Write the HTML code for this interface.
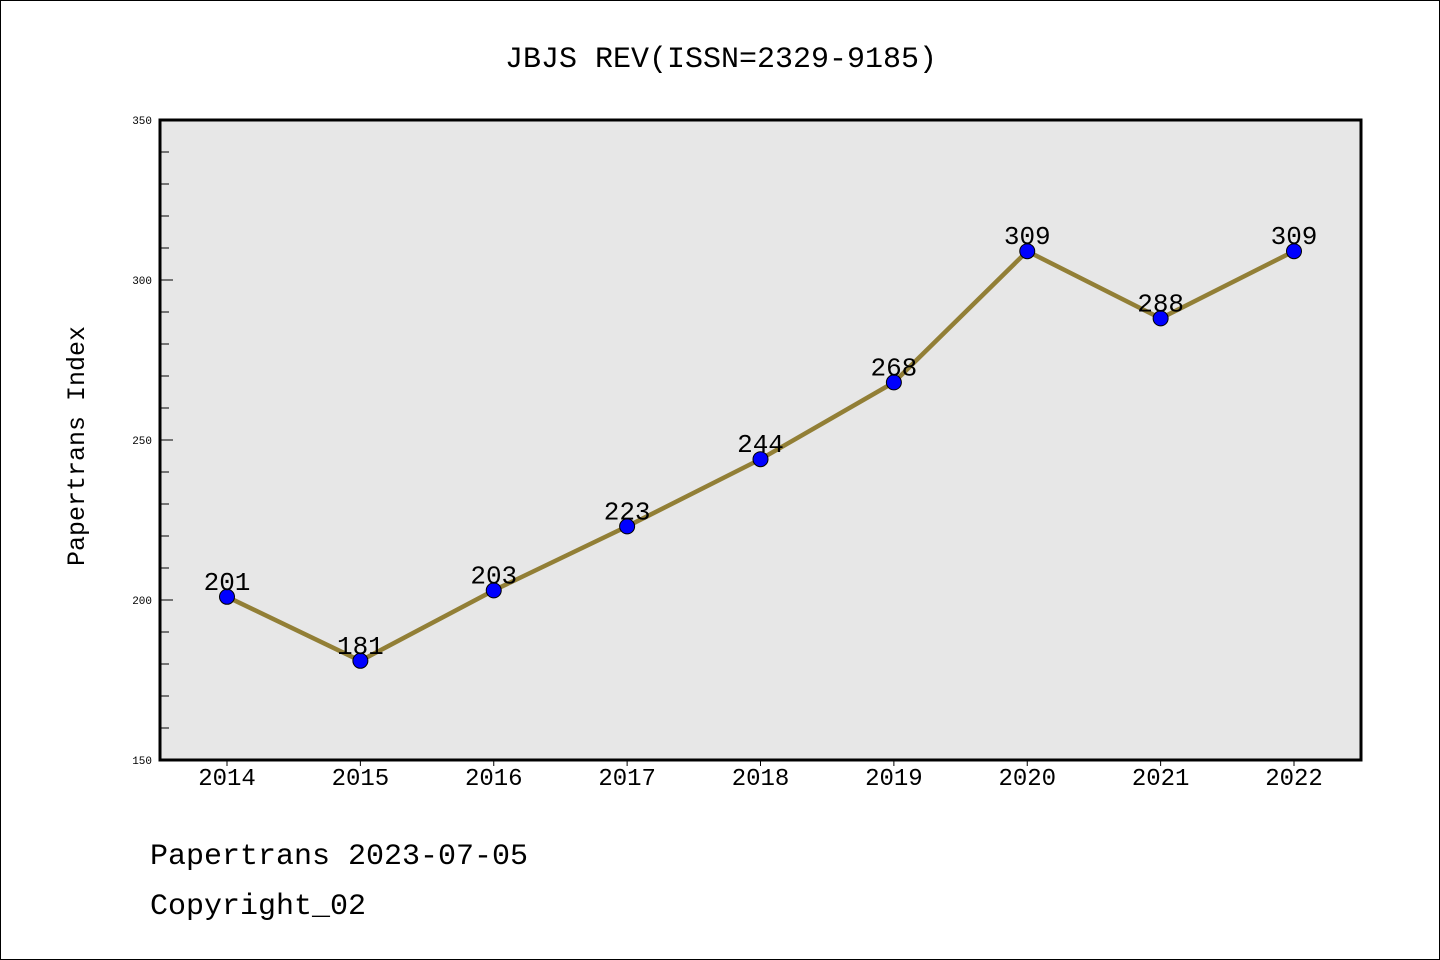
<!DOCTYPE html>
<html><head><meta charset="utf-8"><style>
html,body{margin:0;padding:0;background:#fff}
svg{display:block}
text{font-family:"Liberation Mono","DejaVu Sans Mono",monospace}
</style></head><body>
<svg id="chart" width="1440" height="960">
<rect x="0.5" y="0.5" width="1439" height="959" fill="#fff" stroke="#000"/>
<text x="721" y="67" font-size="30" text-anchor="middle">JBJS REV(ISSN=2329-9185)</text>
<rect x="160" y="120" width="1201" height="640" fill="#e7e7e7"/>
<g id="axes"></g>
<g id="marks"></g>
<rect x="160" y="120" width="1201" height="640" fill="none" stroke="#000" stroke-width="3"/>
<text transform="translate(84,446) rotate(-90)" font-size="25" text-anchor="middle">Papertrans Index</text>
<text x="150" y="864" font-size="30">Papertrans 2023-07-05</text>
<text x="150" y="914" font-size="30">Copyright_02</text>
</svg>
<script>
const years = ["2014","2015","2016","2017","2018","2019","2020","2021","2022"];
const values = [201,181,203,223,244,268,309,288,309];
const yTicks = [150,200,250,300,350];
const NS="http://www.w3.org/2000/svg";
const x0=227,dx=(1294-227)/8;
function xs(i){return x0+i*dx;}
function ys(v){return 760-(v-150)*3.2;}
function mk(t,a){const e=document.createElementNS(NS,t);for(const k in a)e.setAttribute(k,a[k]);return e;}
const axes=document.getElementById('axes'),marks=document.getElementById('marks');
for(let v=150;v<=350;v+=10){
  const major=v%50===0;
  const l=mk('line',{x1:160,x2:major?173:169,y1:ys(v),y2:ys(v),stroke:'#000','stroke-width':1});
  
  
  axes.appendChild(l);
}
yTicks.forEach(v=>{
  const t=mk('text',{x:152,y:ys(v)+4,'font-size':11,'text-anchor':'end'});
  t.textContent=v;
  
  
  axes.appendChild(t);
});
years.forEach((y,i)=>{
  const l=mk('line',{x1:xs(i),x2:xs(i),y1:760,y2:766,stroke:'#000','stroke-width':1});
  
  
  axes.appendChild(l);
  const t=mk('text',{x:xs(i),y:785,'font-size':24,'text-anchor':'middle'});
  t.textContent=y;
  
  
  axes.appendChild(t);
});
const pts=values.map((v,i)=>xs(i)+','+ys(v)).join(' ');
const pl=mk('polyline',{points:pts,fill:'none',stroke:'#927f36','stroke-width':4.5,'stroke-linejoin':'miter'});


marks.appendChild(pl);
values.forEach((v,i)=>{
  const c=mk('circle',{cx:xs(i),cy:ys(v),r:7.5,fill:'#0000ff',stroke:'#000','stroke-width':1});
  
  
  marks.appendChild(c);
  const t=mk('text',{x:xs(i),y:ys(v)-7,'font-size':26,'text-anchor':'middle'});
  t.textContent=v;
  
  
  marks.appendChild(t);
});
</script>
</body></html>
